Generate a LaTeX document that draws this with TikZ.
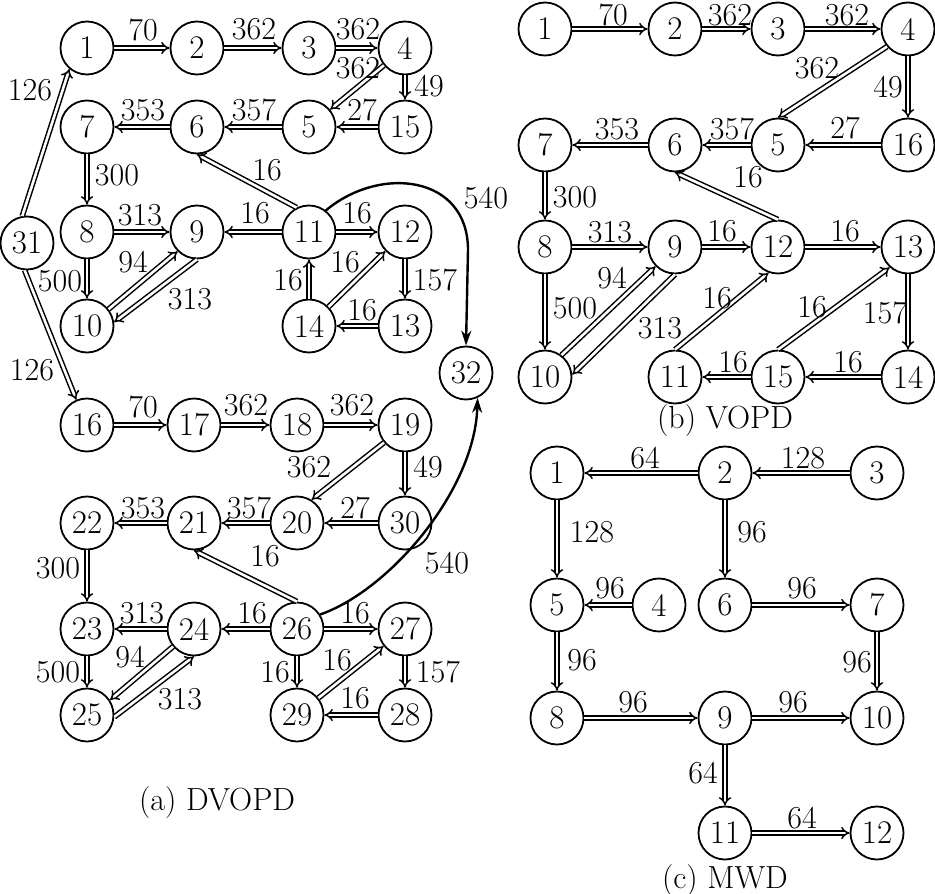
\documentclass[tikz,border=0pt]{standalone}
\usepackage{fontspec}
\usetikzlibrary{arrows.meta}
\begin{document}
\begin{tikzpicture}[x=1pt,y=-1pt,
  nd/.style={circle,draw,line width=1.8pt,minimum size=53pt,inner sep=0pt,font=\fontsize{33}{38}\selectfont},
  e/.style={double,double distance=2.6pt,line width=1.5pt,-{Implies}},
  cv/.style={line width=2.4pt,-{Stealth[length=15pt,width=10pt]}},
  lbl/.style={inner sep=0pt,font=\fontsize{32}{38}\selectfont},
  captxt/.style={inner sep=0pt,font=\fontsize{32}{38}\selectfont}]
\useasboundingbox (0,0) rectangle (935,894);
% ---------- (a) DVOPD ----------
\node[nd] (a1) at (87,48) {1};
\node[nd] (a2) at (197,48) {2};
\node[nd] (a3) at (309,48) {3};
\node[nd] (a4) at (405,48) {4};
\node[nd] (a7) at (87,127) {7};
\node[nd] (a6) at (197,127) {6};
\node[nd] (a5) at (309,127) {5};
\node[nd] (a15) at (405,127) {15};
\node[nd] (a8) at (87,232) {8};
\node[nd] (a9) at (197,232) {9};
\node[nd] (a11) at (309,232) {11};
\node[nd] (a12) at (405,232) {12};
\node[nd] (a31) at (27,243) {31};
\node[nd] (a10) at (87,326) {10};
\node[nd] (a14) at (309,326) {14};
\node[nd] (a13) at (405,326) {13};
\node[nd] (a32) at (466,373) {32};
\node[nd] (a16) at (87,425) {16};
\node[nd] (a17) at (194,425) {17};
\node[nd] (a18) at (297,425) {18};
\node[nd] (a19) at (405,425) {19};
\node[nd] (a22) at (87,523) {22};
\node[nd] (a21) at (194,523) {21};
\node[nd] (a20) at (297,523) {20};
\node[nd] (a30) at (405,523) {30};
\node[nd] (a23) at (87,629) {23};
\node[nd] (a24) at (194,629) {24};
\node[nd] (a26) at (297,629) {26};
\node[nd] (a27) at (405,629) {27};
\node[nd] (a25) at (87,715) {25};
\node[nd] (a29) at (297,715) {29};
\node[nd] (a28) at (405,715) {28};

\draw[e] (a31.100) -- (a1.230) node[lbl] at (30,90) {126};
\draw[e] (a31.265) -- (a16.113) node[lbl] at (32,370) {126};
\draw[e] (a1) -- (a2) node[lbl] at (143,30) {70};
\draw[e] (a2) -- (a3) node[lbl] at (254,29) {362};
\draw[e] (a3) -- (a4) node[lbl] at (358,29) {362};
\draw[e] (a4) -- (a5) node[lbl] at (358,68) {362};
\draw[e] (a4) -- (a15) node[lbl] at (429,86) {49};
\draw[e] (a15) -- (a5) node[lbl] at (362,110) {27};
\draw[e] (a5) -- (a6) node[lbl] at (254,110) {357};
\draw[e] (a6) -- (a7) node[lbl] at (143,110) {353};
\draw[e] (a11.117) -- (a6.270) node[lbl] at (267,170) {16};
\draw[e] (a7) -- (a8) node[lbl] at (117,175) {300};
\draw[e] (a8) -- (a9) node[lbl] at (140,215) {313};
\draw[e] (a11) -- (a9) node[lbl] at (255,213) {16};
\draw[e] (a11) -- (a12) node[lbl] at (357,213) {16};
\draw[e] (a8) -- (a10) node[lbl] at (60,281) {500};
\draw[e] (a10.38) -- (a9.225) node[lbl] at (133,262) {94};
\draw[e] (a9.270) -- (a10.8) node[lbl] at (190,299) {313};
\draw[e] (a14) -- (a11) node[lbl] at (288,280) {16};
\draw[e] (a14) -- (a12) node[lbl] at (345,262) {16};
\draw[e] (a12) -- (a13) node[lbl] at (435,280) {157};
\draw[e] (a13) -- (a14) node[lbl] at (362,310) {16};
\draw[cv] (a11.52) .. controls (380,165) and (468,175) .. (468,250) -- (a32.north);
\node[lbl] (l540a) at (486,198) {540};
\draw[e] (a16) -- (a17) node[lbl] at (143,407) {70};
\draw[e] (a17) -- (a18) node[lbl] at (246,405) {362};
\draw[e] (a18) -- (a19) node[lbl] at (352,405) {362};
\draw[e] (a19.220) -- (a20.58) node[lbl] at (309,467) {362};
\draw[e] (a19) -- (a30) node[lbl] at (428,467) {49};
\draw[e] (a30) -- (a20) node[lbl] at (355,508) {27};
\draw[e] (a20) -- (a21) node[lbl] at (249,508) {357};
\draw[e] (a21) -- (a22) node[lbl] at (143,508) {353};
\draw[e] (a26.90) -- (a21.270) node[lbl] at (265,556) {16};
\draw[e] (a22) -- (a23) node[lbl] at (58,568) {300};
\draw[cv] (a26.32) .. controls (390,590) and (475,490) .. (a32.-65);
\node[lbl] (l540b) at (447,563) {540};
\draw[e] (a24) -- (a23) node[lbl] at (142,613) {313};
\draw[e] (a26) -- (a24) node[lbl] at (252,613) {16};
\draw[e] (a26) -- (a27) node[lbl] at (355,613) {16};
\draw[e] (a23) -- (a25) node[lbl] at (58,672) {500};
\draw[e] (a24.220) -- (a25.33) node[lbl] at (130,657) {94};
\draw[e] (a25.356) -- (a24.270) node[lbl] at (180,699) {313};
\draw[e] (a26) -- (a29) node[lbl] at (275,672) {16};
\draw[e] (a29) -- (a27) node[lbl] at (337,660) {16};
\draw[e] (a27) -- (a28) node[lbl] at (438,672) {157};
\draw[e] (a28) -- (a29) node[lbl] at (355,698) {16};
\node[captxt] (capa) at (217,803) {(a) DVOPD};
% ---------- (b) VOPD ----------
\node[nd] (b1) at (545,29) {1};
\node[nd] (b2) at (675,29) {2};
\node[nd] (b3) at (778,29) {3};
\node[nd] (b4) at (908,29) {4};
\node[nd] (b7) at (545,145) {7};
\node[nd] (b6) at (675,145) {6};
\node[nd] (b5) at (778,145) {5};
\node[nd] (b16) at (908,145) {16};
\node[nd] (b8) at (545,247) {8};
\node[nd] (b9) at (675,247) {9};
\node[nd] (b12) at (778,247) {12};
\node[nd] (b13) at (908,247) {13};
\node[nd] (b10) at (545,377) {10};
\node[nd] (b11) at (675,377) {11};
\node[nd] (b15) at (778,377) {15};
\node[nd] (b14) at (908,377) {14};
\draw[e] (b1) -- (b2) node[lbl] at (613,15) {70};
\draw[e] (b2) -- (b3) node[lbl] at (730,15) {362};
\draw[e] (b3) -- (b4) node[lbl] at (847,15) {362};
\draw[e] (b4.220) -- (b5.90) node[lbl] at (817,68) {362};
\draw[e] (b4) -- (b16) node[lbl] at (888,87) {49};
\draw[e] (b16) -- (b5) node[lbl] at (845,128) {27};
\draw[e] (b5) -- (b6) node[lbl] at (732,129) {357};
\draw[e] (b6) -- (b7) node[lbl] at (617,129) {353};
\draw[e] (b12.90) -- (b6.270) node[lbl] at (748,177) {16};
\draw[e] (b7) -- (b8) node[lbl] at (575,197) {300};
\draw[e] (b8) -- (b9) node[lbl] at (610,232) {313};
\draw[e] (b9) -- (b12) node[lbl] at (722,231) {16};
\draw[e] (b12) -- (b13) node[lbl] at (845,231) {16};
\draw[e] (b8) -- (b10) node[lbl] at (575,308) {500};
\draw[e] (b10.53) -- (b9.225) node[lbl] at (612,278) {94};
\draw[e] (b9.270) -- (b10.5) node[lbl] at (660,328) {313};
\draw[e] (b11.90) -- (b12.250) node[lbl] at (717,298) {16};
\draw[e] (b15.90) -- (b13.228) node[lbl] at (812,307) {16};
\draw[e] (b13) -- (b14) node[lbl] at (885,313) {157};
\draw[e] (b15) -- (b11) node[lbl] at (733,362) {16};
\draw[e] (b14) -- (b15) node[lbl] at (848,362) {16};
\node[captxt] (capb) at (725,421) {(b) VOPD};
% ---------- (c) MWD ----------
\node[nd] (c1) at (557,473) {1};
\node[nd] (c2) at (725,473) {2};
\node[nd] (c3) at (877,473) {3};
\node[nd] (c5) at (557,605) {5};
\node[nd] (c4) at (659,605) {4};
\node[nd] (c6) at (725,605) {6};
\node[nd] (c7) at (877,605) {7};
\node[nd] (c8) at (557,718) {8};
\node[nd] (c9) at (725,718) {9};
\node[nd] (c10) at (877,718) {10};
\node[nd] (c11) at (725,833) {11};
\node[nd] (c12) at (877,833) {12};
\draw[e] (c2) -- (c1) node[lbl] at (645,458) {64};
\draw[e] (c3) -- (c2) node[lbl] at (803,458) {128};
\draw[e] (c1) -- (c5) node[lbl] at (592,532) {128};
\draw[e] (c2) -- (c6) node[lbl] at (752,532) {96};
\draw[e] (c4) -- (c5) node[lbl] at (610,588) {96};
\draw[e] (c6) -- (c7) node[lbl] at (802,588) {96};
\draw[e] (c5) -- (c8) node[lbl] at (582,660) {96};
\draw[e] (c7) -- (c10) node[lbl] at (857,662) {96};
\draw[e] (c8) -- (c9) node[lbl] at (633,702) {96};
\draw[e] (c9) -- (c10) node[lbl] at (793,702) {96};
\draw[e] (c9) -- (c11) node[lbl] at (703,773) {64};
\draw[e] (c11) -- (c12) node[lbl] at (802,818) {64};
\node[captxt] (capc) at (725,881) {(c) MWD};
\end{tikzpicture}
\end{document}
